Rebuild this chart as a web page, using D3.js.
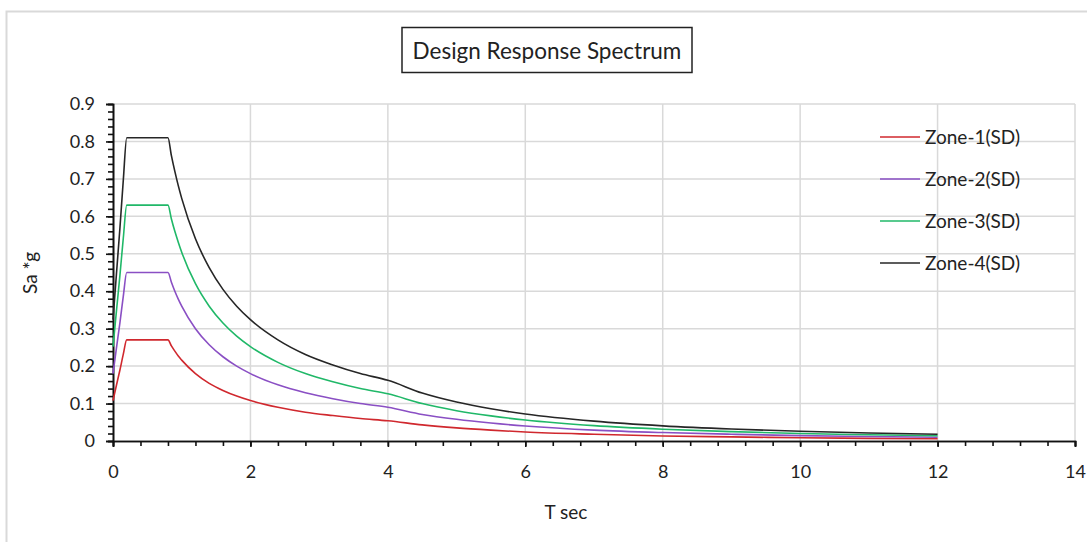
<!DOCTYPE html>
<html>
<head>
<meta charset="utf-8">
<script src="https://cdn.jsdelivr.net/npm/d3@7"></script>
<style>
  body { margin: 0; background: #fff; }
  svg text { font-family: Lato, 'Open Sans', sans-serif; fill: #222; }
</style>
</head>
<body>
<script>

// period values (sec)
var periods = [0, 0.05, 0.1, 0.15, 0.2, 0.4, 0.6, 0.8, 0.85, 0.9, 0.95, 1.0, 1.2, 1.4, 1.6, 1.8, 2.0, 2.4, 2.8,
               3.2, 3.6, 4.0, 4.5, 5, 5.5, 6, 7, 8, 9, 10, 11, 12]

var zone1 = [0.108, 0.149, 0.189, 0.232, 0.270, 0.270, 0.270, 0.270, 0.254, 0.240, 0.227, 0.216, 0.180, 0.154,
             0.135, 0.120, 0.108, 0.090, 0.077, 0.068, 0.060, 0.054, 0.043, 0.035, 0.029, 0.024, 0.018, 0.0135,
             0.011, 0.0086, 0.0071, 0.006]
var zone2 = [0.180, 0.248, 0.315, 0.387, 0.450, 0.450, 0.450, 0.450, 0.424, 0.400, 0.379, 0.360, 0.300, 0.257,
             0.225, 0.200, 0.180, 0.150, 0.129, 0.113, 0.100, 0.090, 0.071, 0.058, 0.048, 0.040, 0.029, 0.0225,
             0.018, 0.0144, 0.012, 0.010]
var zone3 = [0.252, 0.347, 0.441, 0.542, 0.630, 0.630, 0.630, 0.630, 0.593, 0.560, 0.531, 0.504, 0.420, 0.360,
             0.315, 0.280, 0.252, 0.210, 0.180, 0.158, 0.140, 0.126, 0.100, 0.081, 0.067, 0.056, 0.041, 0.0315,
             0.025, 0.020, 0.0167, 0.014]
var zone4 = [0.324, 0.446, 0.567, 0.697, 0.810, 0.810, 0.810, 0.810, 0.762, 0.720, 0.682, 0.648, 0.540, 0.463,
             0.405, 0.360, 0.324, 0.270, 0.231, 0.203, 0.180, 0.162, 0.128, 0.104, 0.086, 0.072, 0.053, 0.0405,
             0.032, 0.026, 0.0214, 0.018]

var seriesNames = ['Zone-1(SD)', 'Zone-2(SD)', 'Zone-3(SD)', 'Zone-4(SD)']
var seriesValues = [zone1, zone2, zone3, zone4]
var seriesColors = ['#d0282e', '#8a4fc4', '#20b868', '#262626']

var xTicks = [0, 2, 4, 6, 8, 10, 12, 14]
var yTicks = [0, 0.1, 0.2, 0.3, 0.4, 0.5, 0.6, 0.7, 0.8, 0.9]

var width = 1087
var height = 542

var svg = d3.select('body')
              .append('svg')
                  .attr('width', width)
                  .attr('height', height)

// chart area border
svg.append('rect')
      .attr('x', 6.5).attr('y', 11.5)
      .attr('width', width).attr('height', height)
      .attr('fill', 'none')
      .attr('stroke', '#d9d9d9')
      .attr('stroke-width', 2)

var plotLeft = 113, plotRight = 1075, plotTop = 104, plotBottom = 441

var xscale = d3.scaleLinear().domain([0, 14]).range([plotLeft, plotRight])
var yscale = d3.scaleLinear().domain([0, 0.9]).range([plotBottom, plotTop])

// grid lines
svg.append('g')
      .selectAll('line')
      .data(yTicks.slice(1))
      .enter()
          .append('line')
              .attr('x1', plotLeft).attr('x2', plotRight)
              .attr('y1', d => yscale(d)).attr('y2', d => yscale(d))
              .attr('stroke', '#d9d9d9')
              .attr('stroke-width', 1.5)

svg.append('g')
      .selectAll('line')
      .data(xTicks.slice(1))
      .enter()
          .append('line')
              .attr('x1', d => xscale(d)).attr('x2', d => xscale(d))
              .attr('y1', plotTop).attr('y2', plotBottom)
              .attr('stroke', '#d9d9d9')
              .attr('stroke-width', 1.5)

// minor ticks
var xMinor = d3.range(0, 14.01, 0.4)
var yMinor = d3.range(0, 0.901, 0.02)

var x_minor = d3.axisBottom(xscale).tickValues(xMinor).tickSize(5).tickFormat('')
var y_minor = d3.axisLeft(yscale).tickValues(yMinor).tickSize(5).tickFormat('')

svg.append('g').attr('transform', 'translate(0,' + plotBottom + ')').call(x_minor)
svg.append('g').attr('transform', 'translate(' + plotLeft + ',0)').call(y_minor)

var x_axis = d3.axisBottom(xscale).tickValues(xTicks).tickSize(6).tickPadding(18).tickFormat(d3.format('d'))
var y_axis = d3.axisLeft(yscale).tickValues(yTicks).tickSize(7).tickPadding(11).tickFormat(d => d === 0 ? '0' : d3.format('.1f')(d))

svg.append('g').classed('graph-x-axis', true).attr('transform', 'translate(0,' + plotBottom + ')').call(x_axis)
svg.append('g').classed('graph-y-axis', true).attr('transform', 'translate(' + plotLeft + ',0)').call(y_axis)

svg.selectAll('.domain, .tick line')
      .attr('stroke', '#111')
      .attr('stroke-width', 1.6)

svg.selectAll('.graph-x-axis .tick text, .graph-y-axis .tick text')
      .style('font-size', '18px')
      .attr('fill', '#222')

// curves
var line = d3.line()
               .x((d, i) => xscale(periods[i]))
               .y(d => yscale(d))
               .curve(d3.curveMonotoneX)

svg.append('g')
      .selectAll('path')
      .data(seriesValues)
      .enter()
          .append('path')
              .attr('d', d => line(d))
              .attr('fill', 'none')
              .attr('stroke', (d, i) => seriesColors[i])
              .attr('stroke-width', 1.6)

// legend
var legend = svg.append('g')
                   .selectAll('g')
                   .data(seriesNames)
                   .enter()
                       .append('g')
                           .attr('transform', (d, i) => 'translate(880,' + (137 + i * 42) + ')')

legend.append('line')
          .attr('x1', 0).attr('x2', 40)
          .attr('stroke', (d, i) => seriesColors[i])
          .attr('stroke-width', 1.6)

legend.append('text')
          .attr('x', 45)
          .attr('y', 7)
          .style('font-size', '19px')
          .text(d => d)

// title
svg.append('rect')
      .attr('x', 402).attr('y', 27.5)
      .attr('width', 290).attr('height', 45)
      .attr('fill', '#fff')
      .attr('stroke', '#222')
      .attr('stroke-width', 1.5)

svg.append('text')
      .attr('x', 547).attr('y', 59)
      .attr('text-anchor', 'middle')
      .style('font-size', '22.5px')
      .text('Design Response Spectrum')

// axis titles
svg.append('text')
      .attr('x', 566).attr('y', 519)
      .attr('text-anchor', 'middle')
      .style('font-size', '19px')
      .text('T sec')

svg.append('text')
      .attr('transform', 'translate(37,273) rotate(-90)')
      .attr('text-anchor', 'middle')
      .style('font-size', '19px')
      .text('Sa *g')

</script>
</body>
</html>
